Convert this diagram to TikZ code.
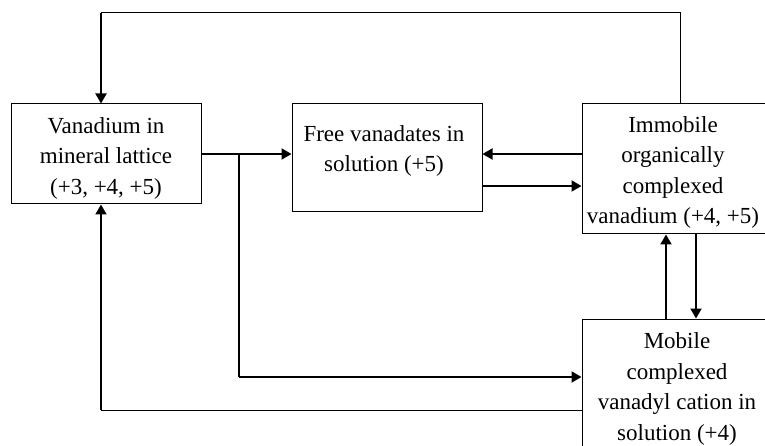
\documentclass[tikz,border=0pt]{standalone}
\usepackage{fontspec}
\setmainfont{Liberation Serif}
\usetikzlibrary{arrows.meta}
\begin{document}
\begin{tikzpicture}[x=1pt,y=-1pt,
  box/.style={draw,line width=1pt,inner sep=0pt,minimum width=#1},
  lbl/.style={align=center,inner sep=0pt,font=\fontsize{23}{30.5}\selectfont},
  thinline/.style={line width=1pt},
  thickline/.style={line width=2pt},
  arr/.style={line width=2pt,-{Triangle[length=10pt,width=11pt]}}]
\useasboundingbox (0,0) rectangle (765,446);
\clip (0,0) rectangle (765,446);
\fill[white] (0,0) rectangle (765,446);
% boxes
\node[box=190pt,minimum height=100pt] (A) at (106,154) {};
\node[box=190pt,minimum height=108pt] (B) at (387,158) {};
\node[box=184pt,minimum height=130pt] (C) at (674,169) {};
\node[box=184pt,minimum height=136pt] (D) at (674,387) {};
% texts
\node[lbl] (tA) at (106,158) {Vanadium in\\mineral lattice\\(+3, +4, +5)};
\node[lbl] (tB) at (384,151) {Free vanadates in\\solution (+5)};
\node[lbl] (tC) at (673,172.5) {Immobile\\organically\\complexed\\vanadium (+4, +5)};
\node[lbl] (tD) at (677,389) {Mobile\\complexed\\vanadyl cation in\\solution (+4)};
% helper coordinates
\coordinate (t1) at (680,13);
\coordinate (t2) at (101,13);
\coordinate (b1) at (101,410);
\coordinate (br) at (239,154);
\coordinate (br2) at (239,377);
\coordinate (yCB) at (0,154);
\coordinate (yBC) at (0,186);
\coordinate (xDC) at (666,0);
\coordinate (xCD) at (696,0);
% top loop: C -> A
\draw[thinline] (t1 |- C.north) -- (t1) -- (t2);
\draw[arr] (t2) -- (t2 |- A.north);
% bottom loop: D -> A
\draw[thinline] (b1 -| D.west) -- (b1);
\draw[arr] (b1) -- (b1 |- A.south);
% A -> B
\draw[arr] (A.east) -- (A.east -| B.west);
% branch A -> D
\draw[line width=1.4pt] (br) -- (br2);
\draw[arr] (br2) -- (br2 -| D.west);
% C <-> B
\draw[arr] (yCB -| C.west) -- (yCB -| B.east);
\draw[arr] (yBC -| B.east) -- (yBC -| C.west);
% C <-> D
\draw[arr] (xDC |- D.north) -- (xDC |- C.south);
\draw[arr] (xCD |- C.south) -- (xCD |- D.north);
\end{tikzpicture}
\end{document}
